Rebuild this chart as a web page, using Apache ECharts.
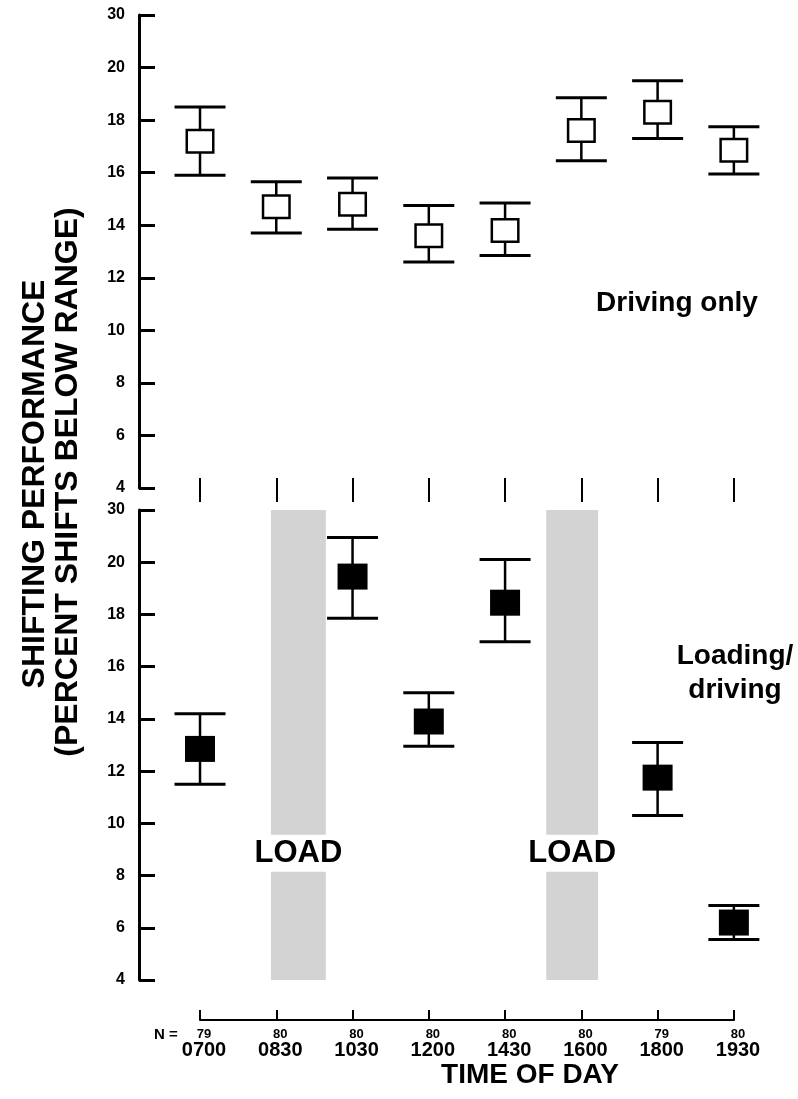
<!DOCTYPE html>
<html>
<head>
<meta charset="utf-8">
<script src="https://cdn.jsdelivr.net/npm/echarts@6/dist/echarts.min.js"></script>
<style>
  html, body { margin: 0; padding: 0; background: #fff; }
  #chart { width: 798px; height: 1099px; }
</style>
</head>
<body>
<div id="chart"></div>
<script>
// ---- Data ----
const categories = ['0700', '0830', '1030', '1200', '1430', '1600', '1800', '1930'];
const nCounts = [79, 80, 80, 80, 80, 80, 79, 80];

// Driving only (open squares)
const drivingMean = [17.2, 14.7, 14.8, 13.6, 13.8, 17.6, 18.3, 16.85];
const drivingLow  = [15.9, 13.7, 13.85, 12.6, 12.85, 16.45, 17.3, 15.95];
const drivingHigh = [18.5, 15.65, 15.8, 14.75, 14.85, 18.85, 19.5, 17.75];

// Loading/driving (filled squares); null = no measurement
const loadingMean = [12.85, null, 19.45, 13.9, 18.45, null, 11.75, 6.2];
const loadingLow  = [11.5, null, 17.85, 12.95, 16.95, null, 10.3, 5.55];
const loadingHigh = [14.2, null, 20.95, 15.0, 20.1, null, 13.1, 6.85];

// LOAD periods, in category-index units
const loadStart = [0.93, 4.54];
const loadEnd   = [1.65, 5.22];

// Y tick labels (broken axis: top tick reads 30)
const yTickLabels = ['4', '6', '8', '10', '12', '14', '16', '18', '20', '30'];
const Y_MIN = 4, Y_MAX = 22, Y_STEP = 2;

// ---- Chart ----
const FONT = '"Liberation Sans", Arial, Helvetica, sans-serif';
const chart = echarts.init(document.getElementById('chart'), null, { renderer: 'canvas' });

function errRender(filled) {
  return function (params, api) {
    const x = api.value(0);
    const m = api.coord([x, api.value(1)]);
    const lo = api.coord([x, api.value(2)]);
    const hi = api.coord([x, api.value(3)]);
    const cx = m[0];
    const capW = 51;
    const bw = filled ? 30 : 26.5;
    const bh = filled ? 26 : 22.5;
    return {
      type: 'group',
      children: [
        { type: 'line', shape: { x1: cx, y1: lo[1], x2: cx, y2: hi[1] }, style: { stroke: '#000', lineWidth: 2.5 } },
        { type: 'line', shape: { x1: cx - capW / 2, y1: hi[1], x2: cx + capW / 2, y2: hi[1] }, style: { stroke: '#000', lineWidth: 3 } },
        { type: 'line', shape: { x1: cx - capW / 2, y1: lo[1], x2: cx + capW / 2, y2: lo[1] }, style: { stroke: '#000', lineWidth: 3 } },
        { type: 'rect', shape: { x: cx - bw / 2, y: m[1] - bh / 2, width: bw, height: bh },
          style: filled ? { fill: '#000' } : { fill: '#fff', stroke: '#000', lineWidth: 2.5 } }
      ]
    };
  };
}

function bandRender(params, api) {
  const p0 = api.coord([api.value(0), Y_MAX]);
  const p1 = api.coord([api.value(1), Y_MIN]);
  const ty = api.coord([0, 8.85])[1];
  return {
    type: 'group',
    children: [
      { type: 'rect', shape: { x: p0[0], y: p0[1], width: p1[0] - p0[0], height: p1[1] - p0[1] },
        style: { fill: '#d3d3d3' } },
      { type: 'text', x: (p0[0] + p1[0]) / 2, y: ty,
        style: { text: 'LOAD', fill: '#000', font: 'bold 31px ' + FONT, align: 'center', verticalAlign: 'middle',
                 backgroundColor: '#fff', padding: [3, 2] } }
    ]
  };
}

const drivingData = categories.map((c, i) => [i, drivingMean[i], drivingLow[i], drivingHigh[i]]);
const loadingData = [];
categories.forEach((c, i) => {
  if (loadingMean[i] != null) loadingData.push([i, loadingMean[i], loadingLow[i], loadingHigh[i]]);
});
const bandData = loadStart.map((s, i) => [s, loadEnd[i]]);

const yLabelFmt = v => yTickLabels[Math.round((v - Y_MIN) / Y_STEP)];

function yAxisFor(gi) {
  return {
    gridIndex: gi, type: 'value', min: Y_MIN, max: Y_MAX, interval: Y_STEP,
    axisLine: { show: true, onZero: false, lineStyle: { color: '#000', width: 3 } },
    axisTick: { show: true, inside: true, length: 16, lineStyle: { color: '#000', width: 3 } },
    axisLabel: { formatter: yLabelFmt, color: '#000', fontWeight: 'bold', fontSize: 16, fontFamily: FONT, margin: 14 },
    splitLine: { show: false }
  };
}

const tickIdx = categories.map((c, i) => i);
const X_MIN = -0.8, X_MAX = 7.5;

const option = {
  animation: false,
  backgroundColor: '#fff',
  grid: [
    { left: 139, right: 26, top: 15, height: 473 },
    { left: 139, right: 26, top: 510, height: 470 },
    { left: 200, right: 64, top: 1010, height: 10 }
  ],
  xAxis: [
    { gridIndex: 0, type: 'value', min: X_MIN, max: X_MAX, position: 'bottom', offset: -10,
      axisLine: { show: false, onZero: false },
      axisTick: { show: true, length: 24, customValues: tickIdx, lineStyle: { color: '#000', width: 2 } },
      axisLabel: { show: false }, splitLine: { show: false } },
    { gridIndex: 1, type: 'value', min: X_MIN, max: X_MAX, show: false },
    { gridIndex: 2, type: 'value', min: 0, max: 7, interval: 1, position: 'bottom',
      axisLine: { show: true, onZero: false, lineStyle: { color: '#000', width: 2 } },
      axisTick: { show: true, inside: true, length: 10, lineStyle: { color: '#000', width: 2 } },
      axisLabel: {
        margin: 8, color: '#000', fontFamily: FONT, fontWeight: 'bold',
        formatter: v => '{n|' + nCounts[v] + '}\n{t|' + categories[v] + '}',
        rich: {
          n: { fontSize: 13, fontWeight: 'bold', fontFamily: FONT, lineHeight: 13, color: '#000', padding: [0, 0, 0, 8] },
          t: { fontSize: 20, fontWeight: 'bold', fontFamily: FONT, lineHeight: 19, color: '#000', padding: [0, 0, 0, 8] }
        }
      },
      splitLine: { show: false } }
  ],
  yAxis: [
    yAxisFor(0),
    yAxisFor(1),
    { gridIndex: 2, type: 'value', min: 0, max: 1, show: false }
  ],
  series: [
    { type: 'custom', name: 'LOAD', xAxisIndex: 1, yAxisIndex: 1, renderItem: bandRender, data: bandData, z: 1, silent: true },
    { type: 'custom', name: 'Driving only', xAxisIndex: 0, yAxisIndex: 0, renderItem: errRender(false), data: drivingData, z: 3 },
    { type: 'custom', name: 'Loading/driving', xAxisIndex: 1, yAxisIndex: 1, renderItem: errRender(true), data: loadingData, z: 3 }
  ],
  graphic: [
    { type: 'text', x: 677, y: 303, style: { text: 'Driving only', fill: '#000', font: 'bold 28px ' + FONT, textAlign: 'center', textVerticalAlign: 'middle' } },
    { type: 'text', x: 735, y: 673, style: { text: 'Loading/\ndriving', fill: '#000', font: 'bold 28px ' + FONT, textAlign: 'center', textVerticalAlign: 'middle', lineHeight: 34 } },
    { type: 'text', x: 530, y: 1075, style: { text: 'TIME OF DAY', fill: '#000', font: 'bold 28px ' + FONT, textAlign: 'center', textVerticalAlign: 'middle' } },
    { type: 'text', x: 166, y: 1035, style: { text: 'N =', fill: '#000', font: 'bold 15px ' + FONT, textAlign: 'center', textVerticalAlign: 'middle' } },
    { type: 'text', x: 35, y: 484, rotation: Math.PI / 2, style: { text: 'SHIFTING PERFORMANCE', fill: '#000', font: 'bold 32px ' + FONT, textAlign: 'center', textVerticalAlign: 'middle' } },
    { type: 'text', x: 68, y: 482, rotation: Math.PI / 2, style: { text: '(PERCENT SHIFTS BELOW RANGE)', fill: '#000', font: 'bold 32px ' + FONT, textAlign: 'center', textVerticalAlign: 'middle' } }
  ]
};

chart.setOption(option);
</script>
</body>
</html>
